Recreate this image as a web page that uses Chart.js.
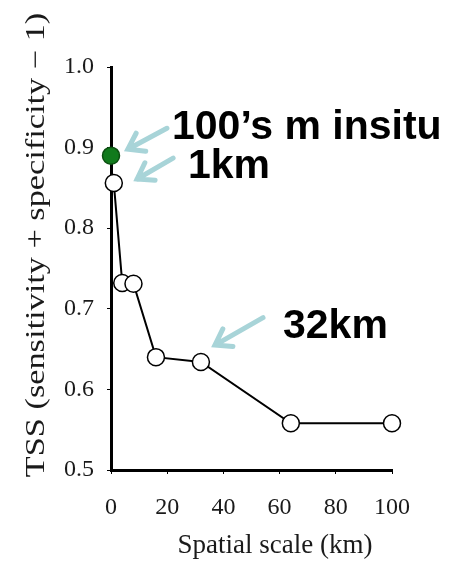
<!DOCTYPE html>
<html>
<head>
<meta charset="utf-8">
<script src="https://cdn.jsdelivr.net/npm/chart.js@4.4.1/dist/chart.umd.min.js"></script>
<style>
    html, body { margin: 0; padding: 0; background: #ffffff; }
    #wrap { width: 466px; height: 565px; }
</style>
</head>
<body>
<div id="wrap"><canvas id="tssChart" width="466" height="565"></canvas></div>
<script>
// Spatial scale (km) vs TSS
const scaleKm = [1, 4, 8, 16, 32, 64, 100];
const tssValues = [0.856, 0.732, 0.731, 0.640, 0.634, 0.558, 0.558];
const insituKm = [0];
const insituTss = [0.890];
const xTicks = [0, 20, 40, 60, 80, 100];
const yTicks = [0.5, 0.6, 0.7, 0.8, 0.9, 1.0];

// callouts, in data units (tip/tail of arrow, text anchor at left baseline)
const callouts = [
    { label: '100\u2019s m insitu', tip: [6.0, 0.898], tail: [19.9, 0.924], text: [21.7, 0.911] },
    { label: '1km', tip: [9.3, 0.861], tail: [22.1, 0.887], text: [27.4, 0.862] },
    { label: '32km', tip: [37.0, 0.655], tail: [54.1, 0.689], text: [61.2, 0.664] }
];

const serif = '"Liberation Serif", "Times New Roman", serif';

const calloutPlugin = {
    id: 'callouts',
    afterDatasetsDraw(chart) {
        const ctx = chart.ctx;
        const xs = chart.scales.x, ys = chart.scales.y;
        ctx.save();
        callouts.forEach(c => {
            const tx = xs.getPixelForValue(c.tip[0]), ty = ys.getPixelForValue(c.tip[1]);
            const sx = xs.getPixelForValue(c.tail[0]), sy = ys.getPixelForValue(c.tail[1]);
            const ang = Math.atan2(ty - sy, tx - sx);
            ctx.strokeStyle = '#a8d4d8';
            ctx.lineWidth = 5;
            ctx.lineCap = 'round';
            ctx.beginPath();
            ctx.moveTo(sx, sy);
            ctx.lineTo(tx, ty);
            const head = 18;
            ctx.moveTo(tx + head * Math.cos(ang + Math.PI - 0.6), ty + head * Math.sin(ang + Math.PI - 0.6));
            ctx.lineTo(tx, ty);
            ctx.lineTo(tx + head * Math.cos(ang + Math.PI + 0.6), ty + head * Math.sin(ang + Math.PI + 0.6));
            ctx.stroke();

            ctx.fillStyle = '#000000';
            ctx.font = 'bold 41px "Liberation Sans", Arial, sans-serif';
            ctx.textAlign = 'left';
            ctx.textBaseline = 'alphabetic';
            ctx.fillText(c.label, xs.getPixelForValue(c.text[0]), ys.getPixelForValue(c.text[1]));
        });

        // x axis title (sits right of centre in the original)
        ctx.fillStyle = '#1a1a1a';
        ctx.font = '27px ' + serif;
        ctx.textAlign = 'center';
        ctx.textBaseline = 'middle';
        ctx.fillText('Spatial scale (km)', 275, 546);

        // y axis title (stretched along its length like the original)
        ctx.translate(37, 245);
        ctx.rotate(-Math.PI / 2);
        ctx.scale(1.27, 1);
        ctx.fillText('TSS (sensitivity + specificity \u2212 1)', 0, 0);
        ctx.restore();
    }
};

const ctx = document.getElementById('tssChart').getContext('2d');
new Chart(ctx, {
    type: 'scatter',
    data: {
        datasets: [{
            data: scaleKm.map((x, i) => ({ x: x, y: tssValues[i] })),
            showLine: true,
            borderColor: '#000000',
            borderWidth: 2,
            pointRadius: 8.5,
            pointBackgroundColor: '#ffffff',
            pointBorderColor: '#000000',
            pointBorderWidth: 1.5,
            clip: false,
            order: 2
        }, {
            data: insituKm.map((x, i) => ({ x: x, y: insituTss[i] })),
            showLine: false,
            pointRadius: 8.5,
            pointBackgroundColor: '#117a1c',
            pointBorderColor: '#0b4f10',
            pointBorderWidth: 1.5,
            clip: false,
            order: 1
        }]
    },
    options: {
        responsive: false,
        animation: false,
        layout: { padding: { top: 67, right: 74, left: 0, bottom: 0 } },
        plugins: {
            legend: { display: false },
            tooltip: { enabled: false }
        },
        scales: {
            x: {
                type: 'linear',
                min: 0,
                max: 100,
                afterFit(scale) { scale.height = 95; },
                afterBuildTicks(scale) { scale.ticks = xTicks.map(v => ({ value: v })); },
                border: { display: true, color: '#000000', width: 3 },
                grid: { drawOnChartArea: false, color: '#000000', tickLength: 4, tickWidth: 1 },
                ticks: { color: '#1a1a1a', font: { family: serif, size: 24 }, padding: 19 }
            },
            y: {
                type: 'linear',
                min: 0.5,
                max: 1.0,
                afterFit(scale) { scale.width = 111; },
                afterBuildTicks(scale) { scale.ticks = yTicks.map(v => ({ value: v })); },
                border: { display: true, color: '#000000', width: 3 },
                grid: { drawOnChartArea: false, color: '#000000', tickLength: 4, tickWidth: 1 },
                ticks: {
                    color: '#1a1a1a',
                    font: { family: serif, size: 24 },
                    padding: 13,
                    callback: v => v.toFixed(1)
                }
            }
        }
    },
    plugins: [calloutPlugin]
});
</script>
</body>
</html>
